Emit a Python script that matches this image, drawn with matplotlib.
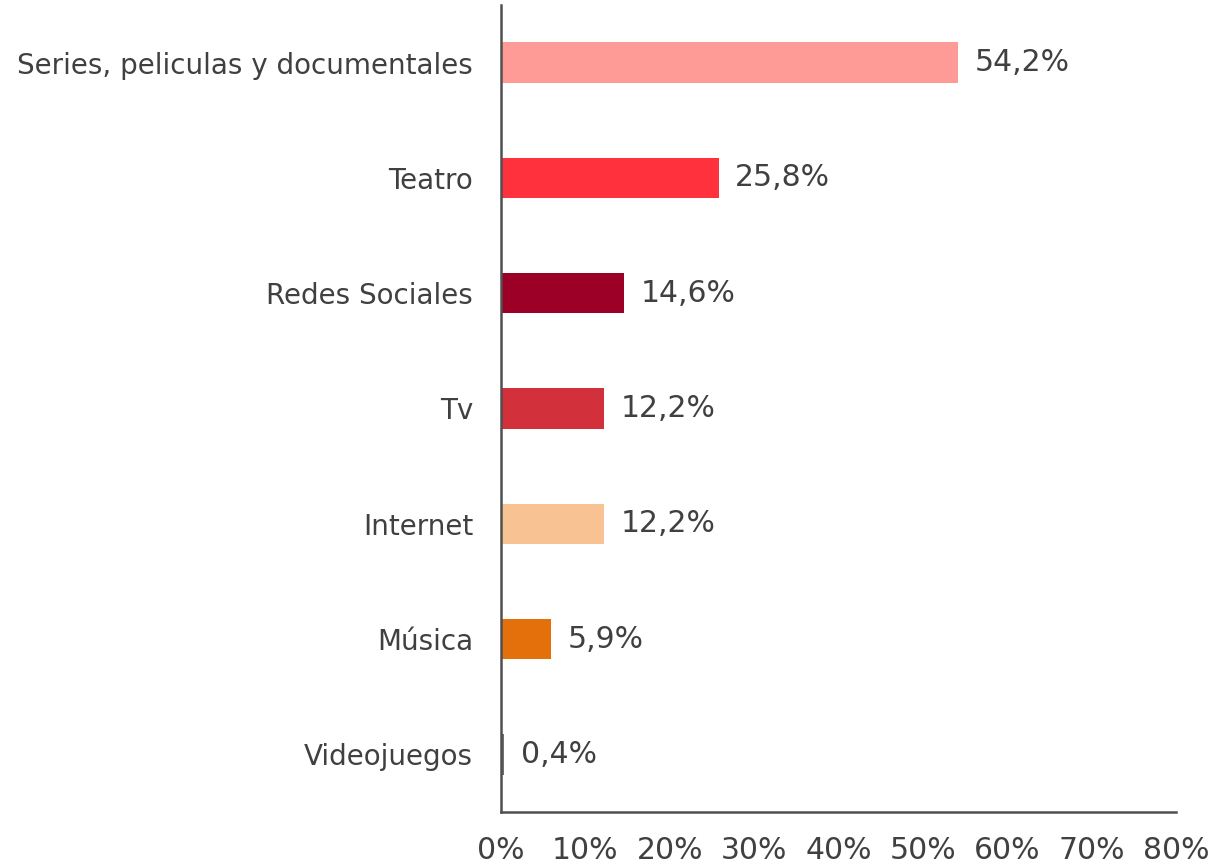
import matplotlib
matplotlib.use("Agg")
import matplotlib.pyplot as plt
from matplotlib.ticker import FuncFormatter

plt.rcParams['font.family'] = ['DejaVu Sans']

categories = ["Series, peliculas y documentales", "Teatro", "Redes Sociales", "Tv",
              "Internet", "Música", "Videojuegos"]
values = [54.2, 25.8, 14.6, 12.2, 12.2, 5.9, 0.4]
colors = ["#FF9B96", "#FF313D", "#9C0027", "#D2313B", "#F8C293", "#E3700A", "#6E6E6E"]
xticks = [0, 10, 20, 30, 40, 50, 60, 70, 80]

text_color = "#404040"
fs = 20
fs_val = 21.5

fig = plt.figure(figsize=(12.14, 8.65), dpi=100)
ax = fig.add_axes([0.4127, 0.0613, 0.5560, 0.9329])

y = list(range(len(categories)))
ax.barh(y, values, height=0.35, color=colors)
for yi, v in zip(y, values):
    ax.annotate(f"{v:.1f}%".replace(".", ","), xy=(v, yi), xytext=(12, 0),
                textcoords="offset points", va="center", ha="left",
                fontsize=fs_val, color=text_color)

ax.set_xlim(0, 80)
ax.set_ylim(6.5, -0.5)
ax.set_yticks(y)
ax.set_yticklabels(categories)
ax.set_xticks(xticks)
ax.xaxis.set_major_formatter(FuncFormatter(lambda v, p: f"{v:.0f}%"))
ax.tick_params(axis="both", length=0, labelcolor=text_color)
ax.tick_params(axis="y", pad=20, labelsize=fs)
ax.tick_params(axis="x", pad=17, labelsize=fs_val)
for s in ["top", "right"]:
    ax.spines[s].set_visible(False)
for s in ["left", "bottom"]:
    ax.spines[s].set_color("#505050")
    ax.spines[s].set_linewidth(1.8)

fig.savefig("out.png", dpi=100)
